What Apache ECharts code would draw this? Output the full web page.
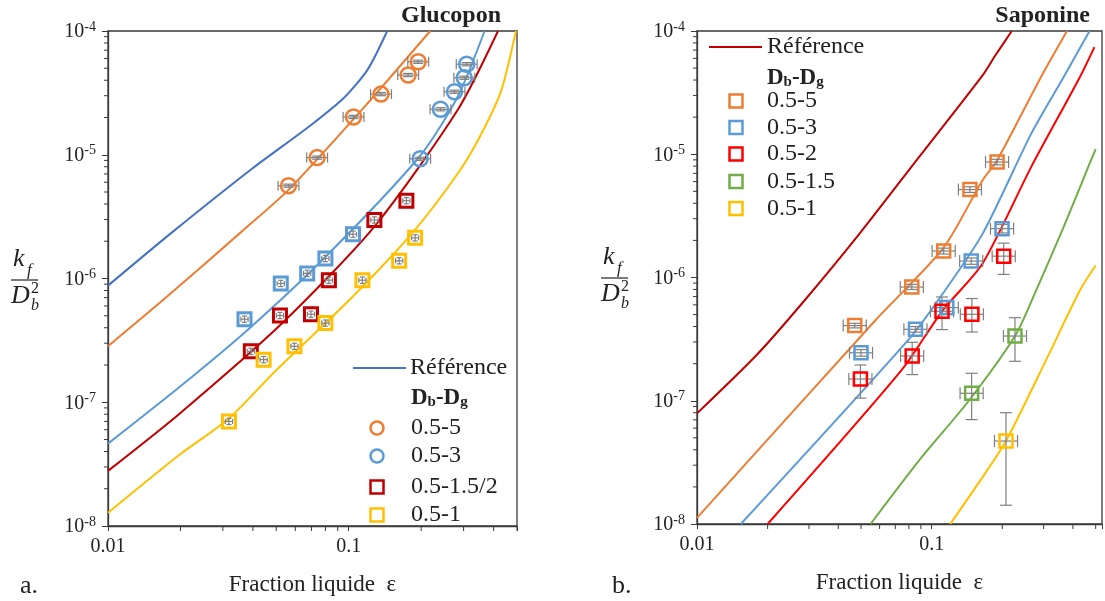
<!DOCTYPE html>
<html><head><meta charset="utf-8">
<script src="https://cdn.jsdelivr.net/npm/echarts@6/dist/echarts.min.js"></script>
<style>html,body{margin:0;padding:0;background:#fff;overflow:hidden}#c{width:1105px;height:601px}</style>
</head><body><div id="c"></div>
<script>
// ---------- DATA ----------
// Tick values
const X_MAJOR_LABELS = [0.01, 0.1];
const X_MINOR = [0.02,0.03,0.04,0.05,0.06,0.07,0.08,0.09,0.2,0.3,0.4,0.5];
const Y_MANTISSAS = [2,3,4,5,6,7,8,9];
const Y_DECADES = [-8,-7,-6,-5];

// Panel a: Glucopon — model curves [epsilon, kf/Db^2]
const gluRef    = [[0.01,8.76e-7],[0.0185,2.37e-6],[0.0394,7.64e-6],[0.07,1.75e-5],[0.0958,2.9e-5],[0.12,4.9e-5],[0.1445,1e-4]];
const gluOrange = [[0.01,2.84e-7],[0.0176,7.15e-7],[0.0357,2.37e-6],[0.0562,5.2e-6],[0.1167,2.46e-5],[0.218,1e-4]];
const gluBlue   = [[0.01,4.63e-8],[0.01976,1.32e-7],[0.0382,3.87e-7],[0.0813,1.54e-6],[0.1976,9.77e-6],[0.2838,2.96e-5],[0.3667,1e-4]];
const gluRed    = [[0.01,2.79e-8],[0.01976,8.05e-8],[0.053,4.37e-7],[0.1288,2.68e-6],[0.2838,2.31e-5],[0.417,1e-4]];
const gluYellow = [[0.01,1.28e-8],[0.01976,3.75e-8],[0.0318,7.4e-8],[0.0496,1.79e-7],[0.1023,6.93e-7],[0.185,2.37e-6],[0.29,7.5e-6],[0.357,1.5e-5],[0.43,3.3e-5],[0.495,1e-4]];
// Panel a: measurements [epsilon, kf/Db^2]
const gluPtsOrange = [[0.0562,5.62e-6],[0.0739,9.48e-6],[0.1047,2.02e-5],[0.1362,3.09e-5],[0.1766,4.41e-5],[0.1944,5.64e-5]];
const gluPtsBlueC  = [[0.198,9.28e-6],[0.2405,2.33e-5],[0.275,3.23e-5],[0.302,4.19e-5],[0.309,5.39e-5]];
const gluPtsBlueS  = [[0.0369,4.69e-7],[0.0522,9.12e-7],[0.0672,1.10e-6],[0.080,1.45e-6],[0.1042,2.28e-6]];
const gluPtsRed    = [[0.0392,2.58e-7],[0.0518,5.02e-7],[0.0697,5.15e-7],[0.0827,9.69e-7],[0.1278,2.97e-6],[0.1736,4.25e-6]];
const gluPtsYellow = [[0.0318,7.0e-8],[0.0443,2.21e-7],[0.0595,2.83e-7],[0.080,4.36e-7],[0.114,9.69e-7],[0.162,1.39e-6],[0.1887,2.13e-6]];
const GLU_CIRCLE_XERR = 0.105, GLU_CIRCLE_YERR = 0.03;
const GLU_SQUARE_XERR = 0.035, GLU_SQUARE_YERR = 0.06;

// Panel b: Saponine — model curves
const sapRef    = [[0.01,7.9e-8],[0.01795,2.35e-7],[0.0283,6.3e-7],[0.0492,2.26e-6],[0.0883,9.48e-6],[0.1648,4.37e-5],[0.187,6.35e-5],[0.2195,1e-4]];
const sapOrange = [[0.01,1.12e-8],[0.0576,4.5e-7],[0.1125,1.75e-6],[0.1648,6.15e-6],[0.19,8.9e-6],[0.2924,4.24e-5],[0.3774,1e-4]];
const sapBlue   = [[0.01537,1e-8],[0.0792,3.09e-7],[0.109,6.95e-7],[0.165,2.27e-6],[0.2657,1.47e-5],[0.3653,4.24e-5],[0.471,1e-4]];
const sapRed    = [[0.02,1e-8],[0.0744,1.77e-7],[0.1107,5.32e-7],[0.1648,1.3e-6],[0.2657,7.9e-6],[0.4285,4.24e-5],[0.494,7.4e-5]];
const sapGreen  = [[0.0549,1e-8],[0.0883,3.27e-8],[0.144,1.0e-7],[0.2265,3.35e-7],[0.2788,7.87e-7],[0.3653,2.57e-6],[0.471,8.4e-6],[0.5,1.1e-5]];
const sapYellow = [[0.12,1e-8],[0.1648,2.4e-8],[0.2074,4.71e-8],[0.3117,2.26e-7],[0.4285,7.87e-7],[0.5,1.25e-6]];
// Panel b: measurements [epsilon, kf/Db^2, low, high]
const sapPtsOrange = [[0.047,4.07e-7,3.9e-7,4.25e-7],[0.0823,8.37e-7,8.0e-7,8.8e-7],[0.1125,1.64e-6,1.55e-6,1.73e-6],[0.1456,5.17e-6,4.9e-6,5.45e-6],[0.190,8.65e-6,8.2e-6,9.1e-6]];
const sapPtsBlue   = [[0.050,2.45e-7,2.3e-7,2.6e-7],[0.0853,3.8e-7,3.6e-7,4.0e-7],[0.116,5.7e-7,5.0e-7,6.5e-7],[0.1474,1.36e-6,1.28e-6,1.44e-6],[0.1995,2.49e-6,2.3e-6,2.7e-6]];
const sapPtsRed    = [[0.0497,1.5e-7,1.05e-7,1.95e-7],[0.0826,2.31e-7,1.63e-7,2.98e-7],[0.1107,5.32e-7,3.78e-7,6.95e-7],[0.1484,5.03e-7,3.61e-7,6.75e-7],[0.2028,1.49e-6,1.06e-6,1.9e-6]];
const sapPtsGreen  = [[0.148,1.15e-7,7.03e-8,1.67e-7],[0.2265,3.35e-7,2.09e-7,4.72e-7]];
const sapPtsYellow = [[0.2074,4.71e-8,1.42e-8,8.0e-8]];
const SAP_XERR = 0.12;

// ---------- STYLE ----------
const FONT = 'Liberation Serif';
const AX = '#3a3a3a';
const C = {ref:'#4472C4', orange:'#ED7D31', blue:'#5B9BD5', dred:'#C00000', red:'#FF0000', green:'#70AD47', yellow:'#FFC000', err:'#808080'};

const Y_MINOR = [];
Y_DECADES.forEach(d => Y_MANTISSAS.forEach(m => Y_MINOR.push(m * Math.pow(10, d))));

function errRowsRel(pts, xe, ye) {
  return pts.map(p => [p[0], p[1], p[0]/(1+xe), p[0]*(1+xe), p[1]/(1+ye), p[1]*(1+ye)]);
}
function errRowsAbs(pts, xe) {
  return pts.map(p => [p[0], p[1], p[0]/(1+xe), p[0]*(1+xe), p[2], p[3]]);
}
function errRender(cap) {
  return function (params, api) {
    const x = api.value(0), y = api.value(1);
    const l = api.coord([api.value(2), y]), r = api.coord([api.value(3), y]);
    const b = api.coord([x, api.value(4)]), t = api.coord([x, api.value(5)]);
    const st = {stroke: C.err, lineWidth: 1.2};
    const L = (x1,y1,x2,y2) => ({type:'line', shape:{x1,y1,x2,y2}, style:st});
    return {type:'group', children:[
      L(l[0],l[1],r[0],r[1]), L(l[0],l[1]-cap,l[0],l[1]+cap), L(r[0],r[1]-cap,r[0],r[1]+cap),
      L(b[0],b[1],t[0],t[1]), L(b[0]-cap,b[1],b[0]+cap,b[1]), L(t[0]-cap,t[1],t[0]+cap,t[1])
    ]};
  };
}
function lineS(data, color, gi) {
  return {type:'line', data, xAxisIndex:gi, yAxisIndex:gi, showSymbol:false, smooth:0.25,
    lineStyle:{color, width:2}, z:2, silent:true, animation:false};
}
function errS(rows, gi, cap) {
  return {type:'custom', data:rows, xAxisIndex:gi, yAxisIndex:gi, renderItem:errRender(cap),
    encode:{x:0, y:1}, z:3, silent:true, animation:false, clip:false};
}
function ptsS(pts, color, symbol, size, gi, bw) {
  return {type:'scatter', data:pts.map(p => [p[0], p[1]]), xAxisIndex:gi, yAxisIndex:gi, symbol, symbolSize:size,
    itemStyle:{color:'rgba(255,255,255,0)', borderColor:color, borderWidth:bw, opacity:1}, z:4, silent:true, animation:false};
}
function minorTicksS(gi, xmin, ymin) {
  const ys = Y_MINOR.map(v => [xmin, v, 0]);
  const xs = X_MINOR.map(v => [v, ymin, 1]);
  return {type:'custom', data: ys.concat(xs), xAxisIndex:gi, yAxisIndex:gi, clip:false, silent:true, z:5, animation:false,
    encode:{x:0, y:1},
    renderItem:(params, api) => {
      const c = api.coord([api.value(0), api.value(1)]);
      const horiz = api.value(2) === 0;
      return {type:'line', shape: horiz ? {x1:c[0]-4, y1:c[1], x2:c[0], y2:c[1]} : {x1:c[0], y1:c[1], x2:c[0], y2:c[1]+5},
        style:{stroke:AX, lineWidth:1}};
    }};
}
function xAxisCfg(gi, xmax) {
  return {type:'log', logBase:10, min:0.01, max:xmax, gridIndex:gi,
    axisLine:{show:true, onZero:false, lineStyle:{color:AX, width:1.3}},
    axisTick:{show:true, length:5, lineStyle:{color:AX, width:1}},
    splitLine:{show:false}, minorTick:{show:false},
    axisLabel:{margin:11, color:'#222', fontFamily:FONT, fontSize:20,
      formatter: v => { const l = Math.log10(v); return X_MAJOR_LABELS.some(t => Math.abs(Math.log10(t) - l) < 1e-6) ? String(+v.toPrecision(3)) : ''; }},
    name:'Fraction liquide  \u03b5', nameLocation:'middle', nameGap:47,
    nameTextStyle:{fontFamily:FONT, fontSize:23, color:'#222'}};
}
function yAxisCfg(gi) {
  return {type:'log', logBase:10, min:1e-8, max:1e-4, gridIndex:gi,
    axisLine:{show:true, onZero:false, lineStyle:{color:AX, width:1.3}},
    axisTick:{show:true, length:6, lineStyle:{color:AX, width:1}},
    splitLine:{show:false}, minorTick:{show:false},
    axisLabel:{margin:12, color:'#222', fontFamily:FONT,
      formatter: v => '{b|10}{s|' + Math.round(Math.log10(v)) + '}',
      rich:{b:{fontFamily:FONT, fontSize:20, color:'#222', lineHeight:22, verticalAlign:'bottom'},
            s:{fontFamily:FONT, fontSize:14, color:'#222', lineHeight:22, verticalAlign:'top'}}}};
}

// ---------- GRAPHIC (titles, legends, labels) ----------
function txt(x, y, text, opts) {
  return {type:'text', x, y, silent:true, style:Object.assign({text, fill:'#222', font:'24px "Liberation Serif"', align:'left', verticalAlign:'middle'}, opts||{})};
}
function dbdg(x, y) {
  return {type:'text', x, y, silent:true, style:{text:'{b|D}{s|b}{b|-D}{s|g}', align:'left', verticalAlign:'middle',
    rich:{b:{fontFamily:FONT, fontWeight:'bold', fontSize:23, fill:'#222', lineHeight:26, verticalAlign:'bottom'},
          s:{fontFamily:FONT, fontWeight:'bold', fontSize:15, fill:'#222', lineHeight:22, verticalAlign:'bottom'}}}};
}
function fraction(dx, dy) {
  const it = 'italic 26px "Liberation Serif"';
  return [
    txt(13+dx, 259+dy, 'k', {font: it}),
    txt(27+dx, 271+dy, 'f', {font:'italic 17px "Liberation Serif"'}),
    {type:'line', silent:true, shape:{x1:11+dx, y1:280+dy, x2:38+dx, y2:280+dy}, style:{stroke:'#222', lineWidth:1.2}},
    txt(11+dx, 296+dy, 'D', {font: it}),
    txt(31+dx, 289+dy, '2', {font:'16px "Liberation Serif"'}),
    txt(31+dx, 306+dy, 'b', {font:'italic 16px "Liberation Serif"'})
  ];
}
function legMarker(x, y, color, shape) {
  if (shape === 'circle') return {type:'circle', silent:true, shape:{cx:x, cy:y, r:6.5}, style:{fill:'none', stroke:color, lineWidth:2.5}};
  return {type:'rect', silent:true, shape:{x:x-6.5, y:y-6.5, width:13, height:13}, style:{fill:'none', stroke:color, lineWidth:2.5}};
}
const legA = [
  {type:'line', silent:true, shape:{x1:353, y1:368, x2:406, y2:368}, style:{stroke:C.ref, lineWidth:2}},
  txt(410, 368, 'Référence'), dbdg(411, 397),
  legMarker(377, 428, C.orange, 'circle'), txt(411, 428, '0.5-5'),
  legMarker(377, 456, C.blue, 'circle'), txt(411, 456, '0.5-3'),
  legMarker(377, 487, C.dred, 'rect'), txt(411, 487, '0.5-1.5/2'),
  legMarker(377, 515, C.yellow, 'rect'), txt(411, 515, '0.5-1')
];
const legB = [
  {type:'line', silent:true, shape:{x1:709, y1:47, x2:762, y2:47}, style:{stroke:C.dred, lineWidth:2}},
  txt(767, 47, 'Référence'), dbdg(767, 77),
  legMarker(736, 101, C.orange, 'rect'), txt(767, 101, '0.5-5'),
  legMarker(736, 127.5, C.blue, 'rect'), txt(767, 127.5, '0.5-3'),
  legMarker(736, 154, C.red, 'rect'), txt(767, 154, '0.5-2'),
  legMarker(736, 181.5, C.green, 'rect'), txt(767, 181.5, '0.5-1.5'),
  legMarker(736, 208.5, C.yellow, 'rect'), txt(767, 208.5, '0.5-1')
];
const graphics = [].concat(
  [txt(501, 16, 'Glucopon', {font:'bold 24px "Liberation Serif"', align:'right'}),
   txt(1090, 16, 'Saponine', {font:'bold 24px "Liberation Serif"', align:'right'}),
   txt(20, 586, 'a.', {font:'26px "Liberation Serif"'}),
   txt(612, 586, 'b.', {font:'26px "Liberation Serif"'})],
  fraction(0, 0), fraction(590, -2), legA, legB
);

// ---------- CHART ----------
const chart = echarts.init(document.getElementById('c'), null, {renderer:'canvas'});
chart.setOption({
  animation:false,
  backgroundColor:'#fff',
  grid:[
    {left:108, top:31, width:409, height:499, show:true, borderColor:AX, borderWidth:1.3, backgroundColor:'rgba(0,0,0,0)'},
    {left:697, top:31, width:416, height:493, show:true, borderColor:AX, borderWidth:1.3, backgroundColor:'rgba(0,0,0,0)'}
  ],
  xAxis:[xAxisCfg(0, 0.5), xAxisCfg(1, 0.532)],
  yAxis:[yAxisCfg(0), yAxisCfg(1)],
  graphic: graphics,
  series:[
    lineS(gluRef, C.ref, 0), lineS(gluOrange, C.orange, 0), lineS(gluBlue, C.blue, 0),
    lineS(gluRed, C.dred, 0), lineS(gluYellow, C.yellow, 0),
    errS(errRowsRel(gluPtsOrange, GLU_CIRCLE_XERR, GLU_CIRCLE_YERR), 0, 5),
    errS(errRowsRel(gluPtsBlueC, GLU_CIRCLE_XERR, GLU_CIRCLE_YERR), 0, 5),
    errS(errRowsRel(gluPtsBlueS, GLU_SQUARE_XERR, GLU_SQUARE_YERR), 0, 2.5),
    errS(errRowsRel(gluPtsRed, GLU_SQUARE_XERR, GLU_SQUARE_YERR), 0, 2.5),
    errS(errRowsRel(gluPtsYellow, GLU_SQUARE_XERR, GLU_SQUARE_YERR), 0, 2.5),
    ptsS(gluPtsOrange, C.orange, 'circle', 15, 0, 2.5),
    ptsS(gluPtsBlueC, C.blue, 'circle', 15, 0, 2.5),
    ptsS(gluPtsBlueS, C.blue, 'rect', 13, 0, 3),
    ptsS(gluPtsRed, C.dred, 'rect', 13, 0, 3),
    ptsS(gluPtsYellow, C.yellow, 'rect', 13, 0, 3),
    minorTicksS(0, 0.01, 1e-8),

    lineS(sapRef, C.dred, 1), lineS(sapOrange, C.orange, 1), lineS(sapBlue, C.blue, 1),
    lineS(sapRed, C.red, 1), lineS(sapGreen, C.green, 1), lineS(sapYellow, C.yellow, 1),
    errS(errRowsAbs(sapPtsOrange, SAP_XERR), 1, 6),
    errS(errRowsAbs(sapPtsBlue, SAP_XERR), 1, 6),
    errS(errRowsAbs(sapPtsRed, SAP_XERR), 1, 6),
    errS(errRowsAbs(sapPtsGreen, SAP_XERR), 1, 6),
    errS(errRowsAbs(sapPtsYellow, SAP_XERR), 1, 6),
    ptsS(sapPtsOrange, C.orange, 'rect', 13, 1, 2.5),
    ptsS(sapPtsBlue, C.blue, 'rect', 13, 1, 2.5),
    ptsS(sapPtsRed, C.red, 'rect', 13, 1, 2.5),
    ptsS(sapPtsGreen, C.green, 'rect', 13, 1, 2.5),
    ptsS(sapPtsYellow, C.yellow, 'rect', 13, 1, 2.5),
    minorTicksS(1, 0.01, 1e-8)
  ]
});
</script></body></html>
